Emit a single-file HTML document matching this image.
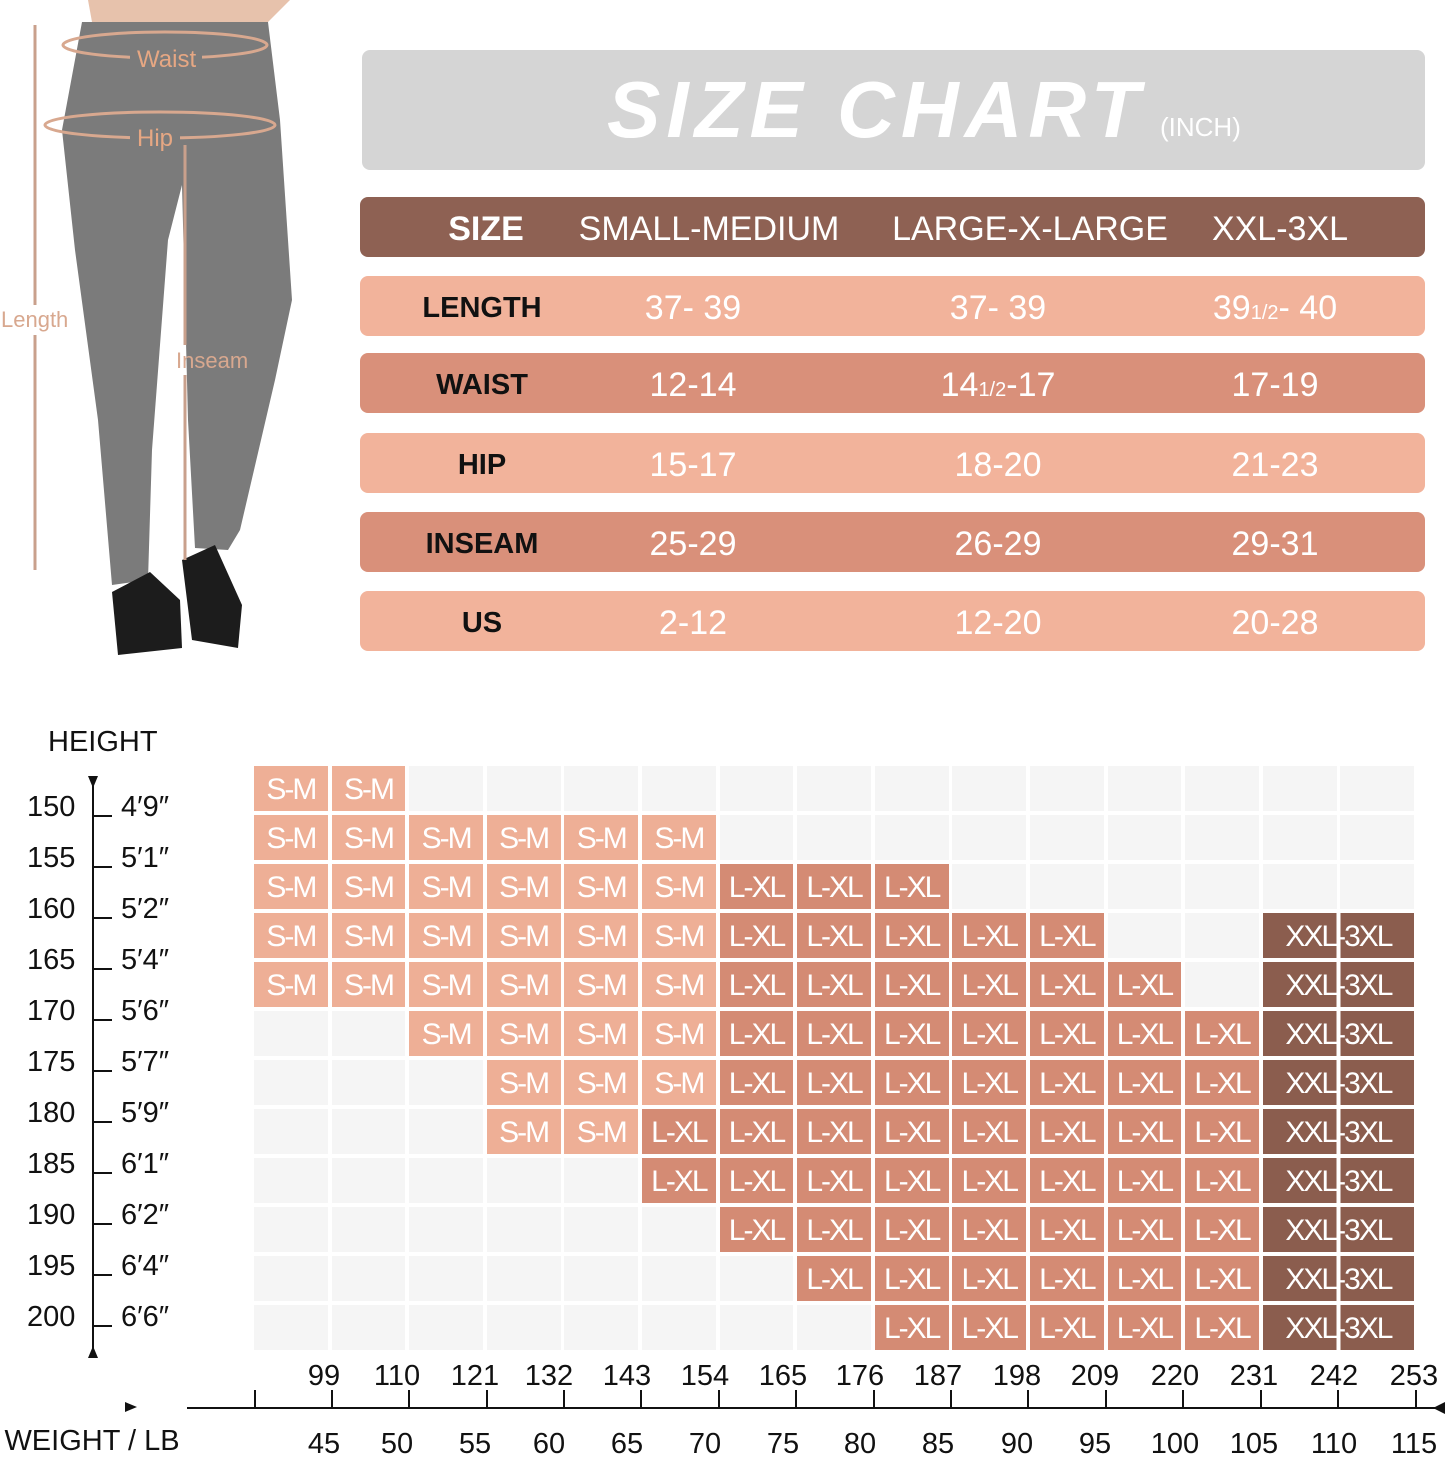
<!DOCTYPE html>
<html><head><meta charset="utf-8"><style>
*{margin:0;padding:0;box-sizing:border-box}
body{width:1445px;height:1458px;background:#fff;position:relative;overflow:hidden;font-family:"Liberation Sans",sans-serif}
.abs{position:absolute}
.title{left:362px;top:50px;width:1063px;height:120px;background:#d5d5d5;border-radius:8px}
.title span{position:absolute;left:245px;top:14px;font-size:80px;font-weight:bold;font-style:italic;color:#fff;letter-spacing:6px}
.title small{position:absolute;left:798px;top:62px;font-size:26px;color:#fff}
.row{left:360px;width:1065px;height:60px;border-radius:8px;font-size:34px}
.row div{position:absolute;top:0;height:60px;line-height:64px;text-align:center;transform:translateX(-50%);white-space:nowrap}
.hd{background:#8e6153;color:#fff}
.lt{background:#f2b39b;color:#fff}
.dk{background:#d9907a;color:#fff}
.lab{color:#111;font-size:29px;font-weight:bold}
.grid{left:254px;top:766px;display:grid;grid-template-columns:repeat(15,73.8px);grid-auto-rows:45px;gap:4px 3.8px}
.grid i{font-style:normal;background:#f5f5f5;color:#fff;font-size:30px;text-align:center;line-height:47px;letter-spacing:-2px}
.grid i.s{background:#eeaf96}
.grid i.l{background:#d48b74}
.grid i.x{grid-column:span 2;background:linear-gradient(90deg,#8b5d4e 0,#8b5d4e calc(50% - 2px),#fff calc(50% - 2px),#fff calc(50% + 2px),#8b5d4e calc(50% + 2px))}
.hl{font-size:29px;color:#111}
</style></head><body>
<svg class="abs" style="left:0;top:0" width="340" height="670">
<path d="M88 0 L92 22 L268 22 L290 0 Z" fill="#e7c2ac"/>
<path d="M82 22 L268 22 L280 120 L292 300 L275 380 L240 530 L228 550 L195 548 L188 420 L182 185 L168 240 L152 450 L148 580 L112 585 L98 420 L75 250 L62 130 Z" fill="#7b7b7b"/>
<path d="M112 592 L150 572 L180 600 L182 648 L118 655 Z" fill="#1c1c1c"/>
<path d="M182 560 L215 545 L242 605 L238 648 L192 640 Z" fill="#1c1c1c"/>
<line x1="35" y1="25" x2="35" y2="305" stroke="#c9a08c" stroke-width="3"/>
<line x1="35" y1="335" x2="35" y2="570" stroke="#c9a08c" stroke-width="3"/>
<line x1="185" y1="145" x2="185" y2="345" stroke="#c9a08c" stroke-width="3"/>
<line x1="185" y1="375" x2="185" y2="560" stroke="#c9a08c" stroke-width="3"/>
<ellipse cx="165" cy="45" rx="102" ry="13" fill="none" stroke="#d8a88f" stroke-width="3"/>
<ellipse cx="160" cy="125" rx="115" ry="13" fill="none" stroke="#d8a88f" stroke-width="3"/>
<rect x="130" y="44" width="72" height="26" fill="#7b7b7b"/>
<rect x="130" y="122" width="50" height="26" fill="#7b7b7b"/>
<text x="137" y="67" font-size="24" fill="#e6a783" font-family="Liberation Sans">Waist</text>
<text x="137" y="146" font-size="24" fill="#e6a783" font-family="Liberation Sans">Hip</text>
<text x="1" y="327" font-size="22" fill="#d8a88f" font-family="Liberation Sans">Length</text>
<text x="176" y="368" font-size="22" fill="#d8a88f" font-family="Liberation Sans">Inseam</text>
</svg>
<div class="abs title"><span>SIZE CHART</span><small>(INCH)</small></div>
<div class="abs row hd" style="top:197px"><div style="left:126px;font-weight:bold">SIZE</div><div style="left:349px">SMALL-MEDIUM</div><div style="left:670px">LARGE-X-LARGE</div><div style="left:920px">XXL-3XL</div></div>
<div class="abs row lt" style="top:276px"><div class="lab" style="left:122px">LENGTH</div><div style="left:333px">37- 39</div><div style="left:638px">37- 39</div><div style="left:915px">39<span style="font-size:20px">1/2</span>- 40</div></div>
<div class="abs row dk" style="top:353px"><div class="lab" style="left:122px">WAIST</div><div style="left:333px">12-14</div><div style="left:638px">14<span style="font-size:20px">1/2</span>-17</div><div style="left:915px">17-19</div></div>
<div class="abs row lt" style="top:433px"><div class="lab" style="left:122px">HIP</div><div style="left:333px">15-17</div><div style="left:638px">18-20</div><div style="left:915px">21-23</div></div>
<div class="abs row dk" style="top:512px"><div class="lab" style="left:122px">INSEAM</div><div style="left:333px">25-29</div><div style="left:638px">26-29</div><div style="left:915px">29-31</div></div>
<div class="abs row lt" style="top:591px"><div class="lab" style="left:122px">US</div><div style="left:333px">2-12</div><div style="left:638px">12-20</div><div style="left:915px">20-28</div></div>

<div class="abs hl" style="left:48px;top:726px">HEIGHT</div>
<svg class="abs" style="left:0;top:770px" width="200" height="600">
<line x1="93" y1="8" x2="93" y2="582" stroke="#111" stroke-width="2"/>
<path d="M88 6 L98 6 L93 18 Z M88 588 L98 588 L93 576 Z" fill="#111"/>
<g stroke="#111" stroke-width="2">
<line x1="94" y1="46" x2="112" y2="46"/><line x1="94" y1="97" x2="112" y2="97"/><line x1="94" y1="148" x2="112" y2="148"/><line x1="94" y1="199" x2="112" y2="199"/><line x1="94" y1="250" x2="112" y2="250"/><line x1="94" y1="301" x2="112" y2="301"/><line x1="94" y1="352" x2="112" y2="352"/><line x1="94" y1="403" x2="112" y2="403"/><line x1="94" y1="454" x2="112" y2="454"/><line x1="94" y1="505" x2="112" y2="505"/><line x1="94" y1="556" x2="112" y2="556"/>
</g>
<g font-size="29" fill="#111" font-family="Liberation Sans">
<text x="27" y="46">150</text><text x="27" y="97">155</text><text x="27" y="148">160</text><text x="27" y="199">165</text><text x="27" y="250">170</text><text x="27" y="301">175</text><text x="27" y="352">180</text><text x="27" y="403">185</text><text x="27" y="454">190</text><text x="27" y="505">195</text><text x="27" y="556">200</text>
<text x="121" y="46">4′9″</text><text x="121" y="97">5′1″</text><text x="121" y="148">5′2″</text><text x="121" y="199">5′4″</text><text x="121" y="250">5′6″</text><text x="121" y="301">5′7″</text><text x="121" y="352">5′9″</text><text x="121" y="403">6′1″</text><text x="121" y="454">6′2″</text><text x="121" y="505">6′4″</text><text x="121" y="556">6′6″</text>
</g>
</svg>

<div class="abs grid">
<i class=s>S-M</i><i class=s>S-M</i><i></i><i></i><i></i><i></i><i></i><i></i><i></i><i></i><i></i><i></i><i></i><i></i><i></i>
<i class=s>S-M</i><i class=s>S-M</i><i class=s>S-M</i><i class=s>S-M</i><i class=s>S-M</i><i class=s>S-M</i><i></i><i></i><i></i><i></i><i></i><i></i><i></i><i></i><i></i>
<i class=s>S-M</i><i class=s>S-M</i><i class=s>S-M</i><i class=s>S-M</i><i class=s>S-M</i><i class=s>S-M</i><i class=l>L-XL</i><i class=l>L-XL</i><i class=l>L-XL</i><i></i><i></i><i></i><i></i><i></i><i></i>
<i class=s>S-M</i><i class=s>S-M</i><i class=s>S-M</i><i class=s>S-M</i><i class=s>S-M</i><i class=s>S-M</i><i class=l>L-XL</i><i class=l>L-XL</i><i class=l>L-XL</i><i class=l>L-XL</i><i class=l>L-XL</i><i></i><i></i><i class=x>XXL-3XL</i>
<i class=s>S-M</i><i class=s>S-M</i><i class=s>S-M</i><i class=s>S-M</i><i class=s>S-M</i><i class=s>S-M</i><i class=l>L-XL</i><i class=l>L-XL</i><i class=l>L-XL</i><i class=l>L-XL</i><i class=l>L-XL</i><i class=l>L-XL</i><i></i><i class=x>XXL-3XL</i>
<i></i><i></i><i class=s>S-M</i><i class=s>S-M</i><i class=s>S-M</i><i class=s>S-M</i><i class=l>L-XL</i><i class=l>L-XL</i><i class=l>L-XL</i><i class=l>L-XL</i><i class=l>L-XL</i><i class=l>L-XL</i><i class=l>L-XL</i><i class=x>XXL-3XL</i>
<i></i><i></i><i></i><i class=s>S-M</i><i class=s>S-M</i><i class=s>S-M</i><i class=l>L-XL</i><i class=l>L-XL</i><i class=l>L-XL</i><i class=l>L-XL</i><i class=l>L-XL</i><i class=l>L-XL</i><i class=l>L-XL</i><i class=x>XXL-3XL</i>
<i></i><i></i><i></i><i class=s>S-M</i><i class=s>S-M</i><i class=l>L-XL</i><i class=l>L-XL</i><i class=l>L-XL</i><i class=l>L-XL</i><i class=l>L-XL</i><i class=l>L-XL</i><i class=l>L-XL</i><i class=l>L-XL</i><i class=x>XXL-3XL</i>
<i></i><i></i><i></i><i></i><i></i><i class=l>L-XL</i><i class=l>L-XL</i><i class=l>L-XL</i><i class=l>L-XL</i><i class=l>L-XL</i><i class=l>L-XL</i><i class=l>L-XL</i><i class=l>L-XL</i><i class=x>XXL-3XL</i>
<i></i><i></i><i></i><i></i><i></i><i></i><i class=l>L-XL</i><i class=l>L-XL</i><i class=l>L-XL</i><i class=l>L-XL</i><i class=l>L-XL</i><i class=l>L-XL</i><i class=l>L-XL</i><i class=x>XXL-3XL</i>
<i></i><i></i><i></i><i></i><i></i><i></i><i></i><i class=l>L-XL</i><i class=l>L-XL</i><i class=l>L-XL</i><i class=l>L-XL</i><i class=l>L-XL</i><i class=l>L-XL</i><i class=x>XXL-3XL</i>
<i></i><i></i><i></i><i></i><i></i><i></i><i></i><i></i><i class=l>L-XL</i><i class=l>L-XL</i><i class=l>L-XL</i><i class=l>L-XL</i><i class=l>L-XL</i><i class=x>XXL-3XL</i>
</div>

<svg class="abs" style="left:0;top:1350px" width="1445" height="108">
<line x1="187" y1="58" x2="1445" y2="58" stroke="#111" stroke-width="2"/>
<path d="M125 52 L137 57 L125 62 Z M1445 52 L1433 58 L1445 64 Z" fill="#111"/>
<g stroke="#111" stroke-width="2">
<line x1="255" y1="40" x2="255" y2="58"/><line x1="332" y1="40" x2="332" y2="58"/><line x1="409" y1="40" x2="409" y2="58"/><line x1="487" y1="40" x2="487" y2="58"/><line x1="564" y1="40" x2="564" y2="58"/><line x1="641" y1="40" x2="641" y2="58"/><line x1="719" y1="40" x2="719" y2="58"/><line x1="796" y1="40" x2="796" y2="58"/><line x1="874" y1="40" x2="874" y2="58"/><line x1="951" y1="40" x2="951" y2="58"/><line x1="1028" y1="40" x2="1028" y2="58"/><line x1="1106" y1="40" x2="1106" y2="58"/><line x1="1183" y1="40" x2="1183" y2="58"/><line x1="1261" y1="40" x2="1261" y2="58"/><line x1="1338" y1="40" x2="1338" y2="58"/><line x1="1416" y1="40" x2="1416" y2="58"/>
</g>
<g font-size="29" fill="#111" font-family="Liberation Sans" text-anchor="middle">
<text x="324" y="35">99</text><text x="397" y="35">110</text><text x="475" y="35">121</text><text x="549" y="35">132</text><text x="627" y="35">143</text><text x="705" y="35">154</text><text x="783" y="35">165</text><text x="860" y="35">176</text><text x="938" y="35">187</text><text x="1017" y="35">198</text><text x="1095" y="35">209</text><text x="1175" y="35">220</text><text x="1254" y="35">231</text><text x="1334" y="35">242</text><text x="1414" y="35">253</text>
<text x="324" y="103">45</text><text x="397" y="103">50</text><text x="475" y="103">55</text><text x="549" y="103">60</text><text x="627" y="103">65</text><text x="705" y="103">70</text><text x="783" y="103">75</text><text x="860" y="103">80</text><text x="938" y="103">85</text><text x="1017" y="103">90</text><text x="1095" y="103">95</text><text x="1175" y="103">100</text><text x="1254" y="103">105</text><text x="1334" y="103">110</text><text x="1414" y="103">115</text>
<text x="92" y="100">WEIGHT / LB</text>
</g>
</svg>
</body></html>
